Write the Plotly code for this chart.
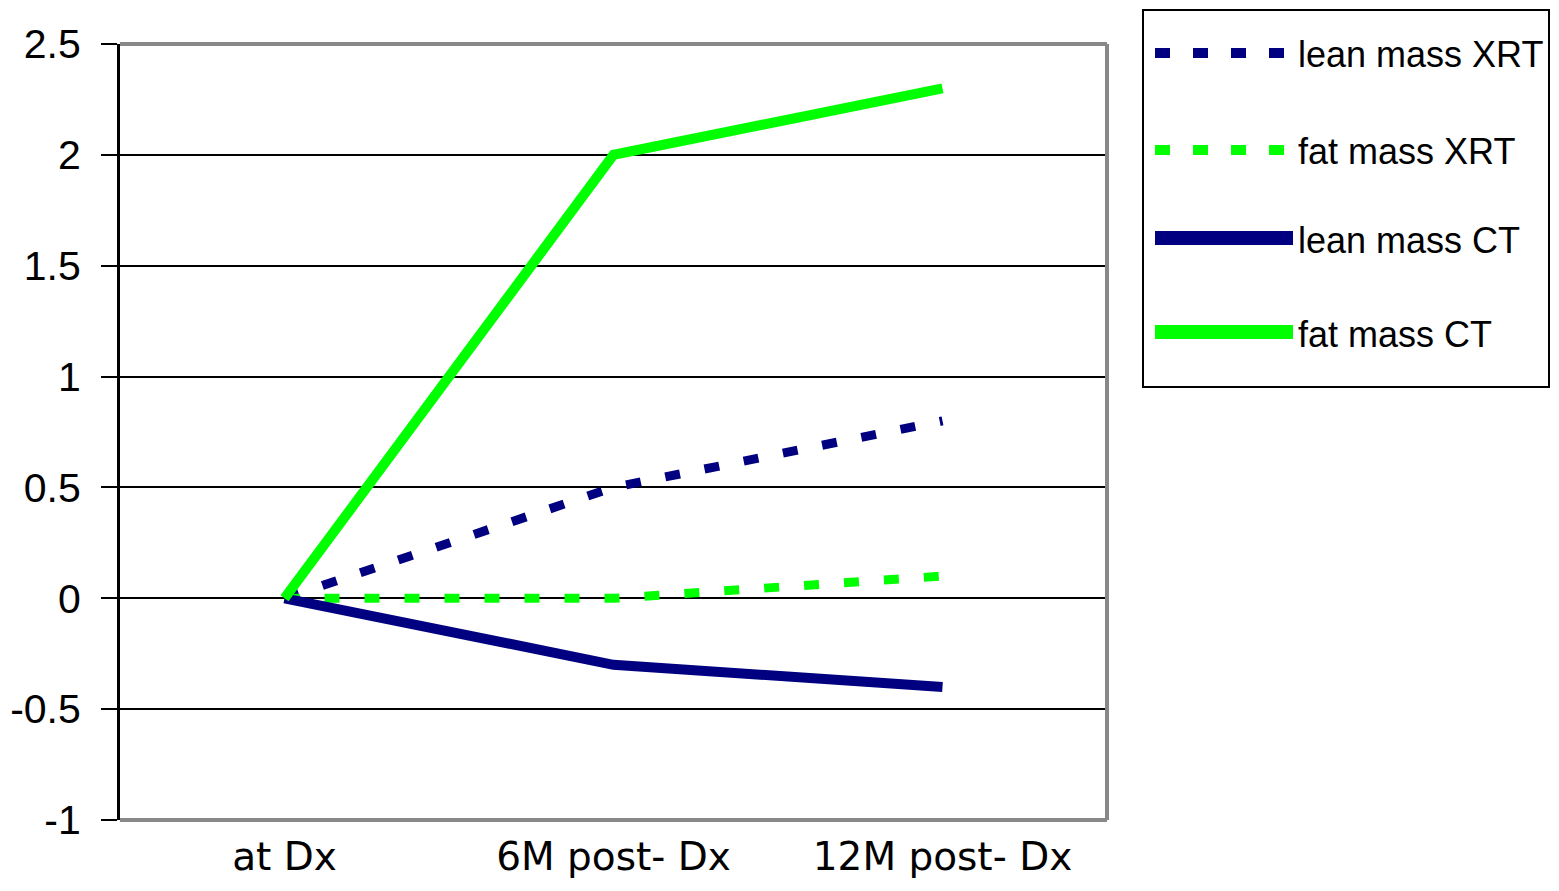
import plotly.graph_objects as go

categories = ["at Dx", "6M post- Dx", "12M post- Dx"]
series_names = ["lean mass XRT", "fat mass XRT", "lean mass CT", "fat mass CT"]
lean_xrt = [0, 0.5, 0.8]
fat_xrt = [0, 0, 0.1]
lean_ct = [0, -0.3, -0.4]
fat_ct = [0, 2.0, 2.3]
y_ticks = [-1, -0.5, 0, 0.5, 1, 1.5, 2, 2.5]
y_ticktext = ["-1", "-0.5", "0", "0.5", "1", "1.5", "2", "2.5"]

NAVY = "#000080"
GREEN = "#00FF00"
styles = [
    dict(color=NAVY, width=9, dash="15px,25px"),
    dict(color=GREEN, width=9, dash="15px,25px"),
    dict(color=NAVY, width=10, dash="solid"),
    dict(color=GREEN, width=10, dash="solid"),
]
values = [lean_xrt, fat_xrt, lean_ct, fat_ct]

SANS = "Liberation Sans, Arial, sans-serif"

fig = go.Figure()
for name, vals, st in zip(series_names, values, styles):
    fig.add_trace(go.Scatter(x=categories, y=vals, mode="lines", name=name,
                             line=st, showlegend=False))

# page body has an 8px margin: lay out in screen coords then shift
OFF = 8
SW, SH = 1559, 891
PL, PR, PT, PB = 120, 1107, 44, 820   # plot area in screen px
PW, PH = PR - PL, PB - PT
W, H = SW - 2 * OFF, SH - 2 * OFF
L, T = PL - OFF, PT - OFF
R = W - L - PW
B = H - T - PH

def px(x):
    return (x - PL) / PW

def py(y):
    return (PB - y) / PH

shapes = []
for (x0, y0, x1, y1) in [(0, 1, 1, 1), (1, 0, 1, 1), (0, 0, 1, 0)]:
    shapes.append(dict(type="line", xref="paper", yref="paper", x0=x0, y0=y0, x1=x1, y1=y1,
                       line=dict(color="#888888", width=4), layer="above"))
shapes.append(dict(type="rect", xref="paper", yref="paper", x0=px(1143), x1=px(1549),
                   y0=py(387), y1=py(10), line=dict(color="black", width=2),
                   fillcolor="white", layer="above"))
annotations = []
item_y = [53, 150, 238, 332]
for name, st, yy in zip(series_names, styles, item_y):
    if st["dash"] == "solid":
        shapes.append(dict(type="line", xref="paper", yref="paper", x0=px(1155), x1=px(1293),
                           y0=py(yy), y1=py(yy), line=dict(color=st["color"], width=14),
                           layer="above"))
    else:
        shapes.append(dict(type="line", xref="paper", yref="paper", x0=px(1155), x1=px(1294),
                           y0=py(yy), y1=py(yy),
                           line=dict(color=st["color"], width=10, dash="15px,23px"),
                           layer="above"))
    annotations.append(dict(text=name, xref="paper", yref="paper", x=px(1296), y=py(yy + 2),
                            xanchor="left", yanchor="middle", showarrow=False,
                            font=dict(family=SANS, size=36, color="black")))

fig.update_layout(
    width=W, height=H,
    margin=dict(l=L, r=R, t=T, b=B, pad=0, autoexpand=False),
    paper_bgcolor="white", plot_bgcolor="white",
    shapes=shapes, annotations=annotations,
    xaxis=dict(type="category", range=[-0.5, 2.5], showgrid=False, zeroline=False,
               showline=False, ticks="", ticklabelstandoff=10, automargin=False,
               tickfont=dict(family="DejaVu Sans, Verdana, sans-serif", size=39, color="black")),
    yaxis=dict(range=[-1, 2.5], tickvals=y_ticks, ticktext=y_ticktext,
               showgrid=True, gridcolor="black", gridwidth=2, automargin=False,
               zeroline=False, showline=True, linecolor="black", linewidth=3,
               ticks="outside", ticklen=16, tickwidth=2, tickcolor="black",
               ticklabelstandoff=12,
               tickfont=dict(family=SANS, size=41, color="black")),
)

fig.write_html("out.html")
